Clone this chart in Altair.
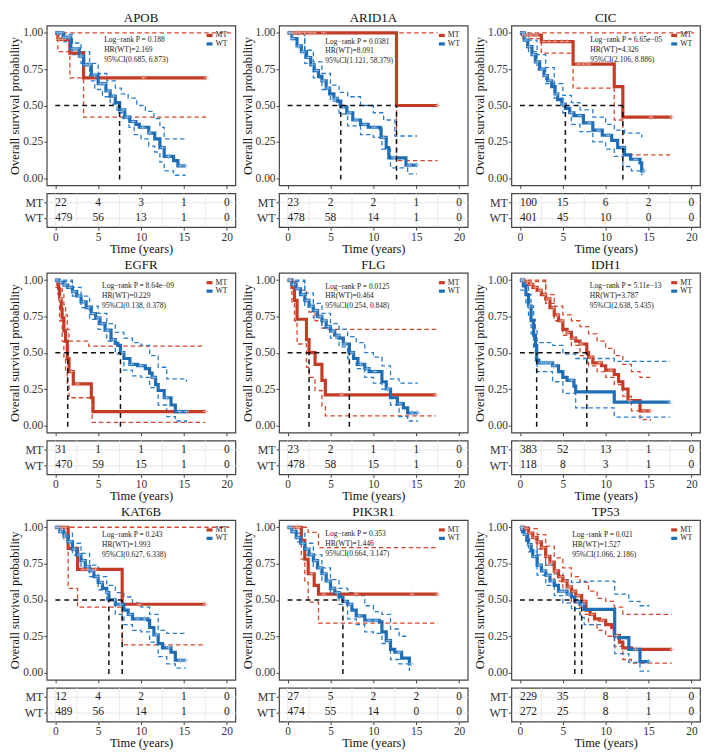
import altair as alt
import pandas as pd

FONT = "Liberation Serif"
C_MT = "#c43c26"
C_WT = "#1e6db5"
C_MT_CI = "#d4482f"
C_WT_CI = "#2a7cc7"
C_MT_CEN = "#eea597"
C_WT_CEN = "#93bfe9"

TIME_TICKS = [0, 5, 10, 15, 20]
GRID_T = [0, 2.5, 5, 7.5, 10, 12.5, 15, 17.5, 20]
SURV_TICKS = [0, 0.25, 0.5, 0.75, 1.0]
GROUPS = ["MT", "WT"]
GENES = ["APOB", "ARID1A", "CIC", "EGFR", "FLG", "IDH1", "KAT6B", "PIK3R1", "TP53"]

# ---------------- APOB ----------------
APOB_MT = [(0, 1.0), (0.3, 0.955), (1.7, 0.86), (3.3, 0.69), (17.6, 0.69)]
APOB_MT_LO = [(0, 1.0), (0.3, 0.87), (1.7, 0.69), (3.3, 0.42), (17.6, 0.42)]
APOB_MT_HI = [(0, 1.0), (20.5, 1.0)]
APOB_WT = [(0, 1.0), (0.9, 0.97), (1.8, 0.89), (2.8, 0.84), (3.3, 0.78), (4.2, 0.71), (5.0, 0.65),
           (5.9, 0.60), (6.4, 0.565), (7.0, 0.52), (7.5, 0.47), (8.1, 0.42), (8.7, 0.39), (9.4, 0.37),
           (9.8, 0.35), (10.9, 0.31), (11.6, 0.27), (12.2, 0.21), (12.7, 0.15), (13.8, 0.12),
           (14.3, 0.085), (15.2, 0.085)]
APOB_WT_LO = [(0, 0.99), (1, 0.94), (2, 0.85), (3, 0.79), (4, 0.67), (4.6, 0.61), (5.5, 0.56),
              (6.4, 0.51), (7.2, 0.45), (7.9, 0.41), (8.6, 0.35), (9.2, 0.30), (10.0, 0.27),
              (10.9, 0.22), (11.6, 0.18), (12.2, 0.11), (12.7, 0.05), (13.8, 0.02), (15.2, 0.02)]
APOB_WT_HI = [(0, 1.0), (1, 0.99), (2, 0.93), (3, 0.87), (4, 0.79), (5, 0.72), (6, 0.67), (7, 0.62),
              (7.7, 0.58), (8.5, 0.55), (9.5, 0.50), (10.5, 0.46), (11.5, 0.41), (12.2, 0.35),
              (12.7, 0.27), (15.2, 0.27)]
APOB_MT_CEN = [0.4, 0.9, 10.3, 17.6]
APOB_WT_CEN = [0.3, 0.7, 1.2, 1.6, 2.1, 2.5, 3.0, 3.6, 4.0, 4.6, 5.3, 5.7, 6.2, 6.8, 7.9, 8.4,
               9.1, 10.2, 11.0, 12.5, 13.2, 14.6, 15.2]
APOB_MED = [7.5]

# ---------------- ARID1A ----------------
ARID1A_MT = [(0, 1.0), (12.7, 0.5), (17.5, 0.5)]
ARID1A_MT_LO = [(0, 1.0), (12.7, 0.12), (17.5, 0.12)]
ARID1A_MT_HI = [(0, 1.0), (17.5, 1.0)]
ARID1A_WT = [(0, 1.0), (0.5, 0.96), (1.1, 0.91), (1.6, 0.87), (2.2, 0.83), (2.7, 0.78), (3.1, 0.74),
             (3.6, 0.70), (4.0, 0.67), (4.5, 0.62), (4.9, 0.58), (5.4, 0.55), (5.8, 0.53),
             (6.2, 0.49), (6.9, 0.45), (7.6, 0.40), (8.5, 0.37), (9.4, 0.35), (10.8, 0.34),
             (10.9, 0.28), (11.5, 0.21), (11.8, 0.14), (13.8, 0.09), (15.1, 0.09)]
ARID1A_WT_LO = [(0, 0.99), (2, 0.79), (3, 0.69), (4, 0.61), (5, 0.53), (6, 0.44), (7, 0.36),
                (8.5, 0.30), (10, 0.28), (11, 0.20), (12, 0.07), (14, 0.03), (15.1, 0.03)]
ARID1A_WT_HI = [(0, 1.0), (2, 0.88), (3, 0.80), (4, 0.72), (5, 0.64), (6, 0.59), (7, 0.56),
                (8.5, 0.50), (10, 0.45), (11.2, 0.40), (12.5, 0.29), (15.1, 0.29)]
ARID1A_MT_CEN = [0.3, 0.6, 1.0, 1.4, 2.0, 2.6, 3.1, 4.2, 17.5]
ARID1A_WT_CEN = [0.2, 0.6, 1.3, 1.8, 2.4, 2.9, 3.4, 4.2, 4.7, 5.6, 6.5, 7.2, 8.0, 9.0, 10.1,
                 11.2, 12.4, 14.2, 15.1]
ARID1A_MED = [6.2, 12.7]

# ---------------- CIC ----------------
CIC_MT = [(0, 1.0), (0.3, 0.985), (2.5, 0.94), (6.2, 0.785), (11.0, 0.63), (12.0, 0.42), (17.7, 0.42)]
CIC_MT_LO = [(0, 1.0), (0.3, 0.96), (2.5, 0.86), (6.2, 0.62), (11.0, 0.40), (12.0, 0.16), (17.7, 0.16)]
CIC_MT_HI = [(0, 1.0), (20.3, 1.0)]
CIC_WT = [(0, 1.0), (0.5, 0.95), (0.9, 0.905), (1.4, 0.85), (1.8, 0.80), (2.3, 0.75), (2.8, 0.705),
          (3.2, 0.67), (3.7, 0.63), (4.1, 0.58), (4.4, 0.54), (4.9, 0.51), (5.3, 0.48), (5.8, 0.45),
          (6.3, 0.43), (7.4, 0.38), (8.5, 0.33), (9.6, 0.295), (10.7, 0.26), (11.4, 0.21),
          (12.2, 0.16), (12.9, 0.13), (14.0, 0.105), (14.2, 0.05), (14.5, 0.05)]
CIC_WT_LO = [(0, 0.99), (1, 0.87), (2, 0.75), (3, 0.65), (4, 0.55), (5, 0.45), (6, 0.37), (7, 0.32),
             (8.5, 0.25), (10, 0.20), (11, 0.15), (12, 0.08), (13, 0.05), (14.2, 0.02)]
CIC_WT_HI = [(0, 1.0), (1, 0.95), (2, 0.85), (3, 0.76), (4, 0.65), (5, 0.57), (6, 0.52), (7, 0.47),
             (8.5, 0.42), (10, 0.37), (11, 0.33), (12.2, 0.31), (14.2, 0.28)]
CIC_MT_CEN = [0.5, 0.9, 1.3, 1.9, 2.8, 3.4, 4.1, 4.9, 5.5, 6.8, 7.4, 8.0, 15.3, 17.7]
CIC_WT_CEN = [0.3, 0.7, 1.1, 1.6, 2.0, 2.6, 3.0, 3.5, 4.3, 5.1, 6.0, 7.0, 8.1, 9.2, 10.3, 12.0,
              13.5, 14.5]
CIC_MED = [5.3, 12.0]

# ---------------- EGFR ----------------
EGFR_MT = [(0, 1.0), (0.3, 0.97), (0.4, 0.94), (0.5, 0.87), (0.7, 0.80), (0.8, 0.74), (1.0, 0.65),
           (1.2, 0.58), (1.4, 0.46), (1.6, 0.37), (2.1, 0.285), (4.2, 0.19), (4.4, 0.095), (17.5, 0.095)]
EGFR_MT_LO = [(0, 0.95), (0.3, 0.90), (0.5, 0.72), (0.8, 0.58), (1.0, 0.47), (1.2, 0.38), (1.4, 0.28),
              (1.6, 0.19), (4.3, 0.02), (17.5, 0.02)]
EGFR_MT_HI = [(0, 1.0), (0.5, 0.98), (0.8, 0.92), (1.0, 0.83), (1.2, 0.76), (1.4, 0.66), (1.6, 0.58),
              (3.9, 0.545), (17.5, 0.545)]
EGFR_WT = [(0, 1.0), (0.5, 0.985), (1.0, 0.965), (1.45, 0.95), (2.0, 0.92), (2.5, 0.89), (3.0, 0.85),
           (3.6, 0.81), (4.2, 0.77), (4.7, 0.74), (5.2, 0.70), (5.8, 0.655), (6.5, 0.59), (7.0, 0.565),
           (7.3, 0.55), (7.6, 0.50), (8.0, 0.46), (8.7, 0.42), (9.6, 0.41), (10.5, 0.39), (11.0, 0.36),
           (11.3, 0.33), (11.7, 0.28), (12.0, 0.24), (12.7, 0.19), (13.5, 0.14), (14.0, 0.095),
           (15.3, 0.095)]
EGFR_WT_LO = [(0, 0.99), (2, 0.89), (3, 0.81), (4, 0.73), (5, 0.66), (6, 0.58), (7, 0.49), (8, 0.38),
              (9, 0.34), (10, 0.33), (11, 0.26), (12, 0.14), (13, 0.06), (14, 0.03), (15.3, 0.02)]
EGFR_WT_HI = [(0, 1.0), (2, 0.95), (3, 0.89), (4, 0.82), (5, 0.77), (6, 0.70), (7, 0.64), (8, 0.60),
              (9, 0.57), (10, 0.55), (11, 0.48), (12, 0.40), (13, 0.32), (15.3, 0.30)]
EGFR_MT_CEN = [0.6, 1.9, 2.6, 17.5]
EGFR_WT_CEN = [0.2, 0.6, 1.1, 1.7, 2.2, 2.8, 3.3, 3.9, 4.4, 5.0, 5.5, 6.1, 6.8, 7.8, 8.9, 10.0,
               11.5, 13.0, 14.5, 15.3]
EGFR_MED = [1.45, 7.6]

# ---------------- FLG ----------------
FLG_MT = [(0, 1.0), (0.5, 0.95), (0.8, 0.86), (1.1, 0.73), (2.2, 0.59), (2.5, 0.50), (3.2, 0.42),
          (4.0, 0.31), (4.4, 0.21), (17.3, 0.21)]
FLG_MT_LO = [(0, 1.0), (0.5, 0.85), (0.8, 0.72), (1.1, 0.56), (2.2, 0.40), (2.5, 0.33), (3.2, 0.24),
             (4.0, 0.13), (4.4, 0.065), (17.3, 0.065)]
FLG_MT_HI = [(0, 1.0), (0.8, 0.98), (1.1, 0.93), (2.2, 0.85), (2.5, 0.78), (3.2, 0.72), (4.0, 0.67),
             (4.4, 0.66), (17.3, 0.66)]
FLG_WT = [(0, 1.0), (0.5, 0.97), (1.0, 0.94), (1.5, 0.90), (2.0, 0.86), (2.5, 0.82), (3.0, 0.79),
          (3.5, 0.75), (4.0, 0.72), (4.5, 0.68), (5.0, 0.65), (5.5, 0.62), (6.0, 0.60), (6.5, 0.56),
          (7.2, 0.50), (7.7, 0.46), (8.2, 0.42), (9.0, 0.39), (9.5, 0.37), (10.8, 0.37), (11.0, 0.30),
          (11.5, 0.25), (12.0, 0.19), (12.8, 0.15), (13.5, 0.12), (14.0, 0.085), (15.2, 0.085)]
FLG_WT_LO = [(0, 0.99), (2, 0.82), (3, 0.74), (4, 0.67), (5, 0.60), (6, 0.54), (7, 0.46), (8, 0.39),
             (9, 0.33), (10, 0.29), (11, 0.25), (12, 0.14), (13, 0.06), (14, 0.03), (15.2, 0.03)]
FLG_WT_HI = [(0, 1.0), (2, 0.91), (3, 0.84), (4, 0.77), (5, 0.70), (6, 0.66), (7, 0.61), (8, 0.57),
             (9, 0.50), (10, 0.47), (11, 0.41), (12, 0.32), (13, 0.29), (15.2, 0.29)]
FLG_MT_CEN = [0.3, 6.3, 17.3]
FLG_WT_CEN = [0.2, 0.7, 1.2, 1.8, 2.3, 2.8, 3.3, 3.8, 4.3, 4.8, 5.3, 5.9, 6.7, 7.5, 8.5, 9.3,
              10.2, 11.7, 13.1, 14.5, 15.2]
FLG_MED = [2.5, 7.2]

# ---------------- IDH1 ----------------
IDH1_MT = [(0, 1.0), (0.5, 0.99), (1.0, 0.97), (1.5, 0.95), (2.0, 0.93), (2.5, 0.90), (3.0, 0.87),
           (3.5, 0.81), (4.0, 0.76), (4.5, 0.72), (5.0, 0.66), (5.5, 0.64), (6.0, 0.60), (6.5, 0.58),
           (7.0, 0.56), (7.8, 0.50), (8.0, 0.47), (8.5, 0.43), (9.5, 0.41), (10.0, 0.38), (11.0, 0.35),
           (11.5, 0.30), (12.0, 0.25), (12.6, 0.17), (13.5, 0.17), (14.0, 0.10), (15.2, 0.10)]
IDH1_MT_LO = [(0, 0.99), (3, 0.84), (4, 0.72), (5, 0.62), (6, 0.55), (7, 0.48), (8, 0.41), (9, 0.37),
              (10, 0.33), (11, 0.28), (12, 0.20), (13, 0.10), (14, 0.04), (15.2, 0.03)]
IDH1_MT_HI = [(0, 1.0), (3, 0.90), (4, 0.82), (5, 0.76), (6, 0.72), (7, 0.68), (8, 0.63), (9, 0.58),
              (10, 0.53), (11, 0.48), (12, 0.42), (13, 0.37), (14, 0.33), (15.2, 0.33)]
IDH1_WT = [(0, 1.0), (0.4, 0.96), (0.7, 0.90), (1.0, 0.82), (1.3, 0.72), (1.6, 0.62), (1.8, 0.55),
           (1.95, 0.45), (2.2, 0.43), (3.8, 0.41), (4.5, 0.37), (5.0, 0.33), (5.5, 0.31), (6.3, 0.27),
           (6.5, 0.23), (11.0, 0.16), (17.5, 0.16)]
IDH1_WT_LO = [(0, 0.93), (0.7, 0.83), (1.0, 0.74), (1.3, 0.63), (1.6, 0.52), (1.8, 0.44), (2.0, 0.37),
              (3.8, 0.30), (5.0, 0.22), (6.5, 0.12), (11.0, 0.057), (17.5, 0.057)]
IDH1_WT_HI = [(0, 1.0), (0.7, 0.96), (1.0, 0.90), (1.3, 0.82), (1.6, 0.73), (1.8, 0.65), (2.0, 0.57),
              (3.8, 0.55), (5.0, 0.49), (6.5, 0.46), (11.0, 0.44), (17.5, 0.44)]
IDH1_MT_CEN = [0.4, 0.9, 1.3, 1.8, 2.4, 2.9, 3.3, 3.9, 4.4, 4.9, 5.6, 6.3, 7.1, 8.3, 9.3, 10.6,
               12.8, 14.5, 15.2]
IDH1_WT_CEN = [0.2, 1.1, 2.5, 3.0, 3.5, 4.0, 6.0, 17.5]
IDH1_MED = [1.95, 7.8]

# ---------------- KAT6B ----------------
KAT6B_MT = [(0, 1.0), (1.5, 0.855), (2.6, 0.71), (7.8, 0.47), (17.5, 0.47)]
KAT6B_MT_LO = [(0, 1.0), (1.5, 0.58), (2.6, 0.45), (7.8, 0.19), (17.5, 0.19)]
KAT6B_MT_HI = [(0, 1.0), (20.3, 1.0)]
KAT6B_WT = [(0, 1.0), (0.5, 0.97), (1.0, 0.94), (1.5, 0.90), (2.0, 0.85), (2.5, 0.81), (3.0, 0.77),
            (3.5, 0.73), (4.0, 0.70), (4.5, 0.66), (5.0, 0.62), (5.5, 0.58), (6.0, 0.55), (6.25, 0.50),
            (7.0, 0.47), (8.0, 0.43), (8.5, 0.40), (9.0, 0.37), (10.8, 0.36), (11.0, 0.31), (11.5, 0.26),
            (12.0, 0.20), (12.5, 0.17), (13.5, 0.14), (14.0, 0.085), (15.2, 0.085)]
KAT6B_WT_LO = [(0, 0.99), (1, 0.91), (2, 0.81), (3, 0.72), (4, 0.66), (5, 0.57), (6, 0.50), (7, 0.40),
               (8, 0.33), (9, 0.29), (10, 0.28), (11, 0.21), (12, 0.11), (13, 0.06), (14, 0.03),
               (15.2, 0.03)]
KAT6B_WT_HI = [(0, 1.0), (1, 0.96), (2, 0.89), (3, 0.82), (4, 0.74), (5, 0.66), (6, 0.60), (7, 0.55),
               (8, 0.52), (9, 0.48), (10, 0.45), (11, 0.40), (12, 0.29), (13, 0.27), (15.2, 0.27)]
KAT6B_MT_CEN = [0.4, 0.8, 1.2, 3.2, 3.8, 4.7, 9.8, 17.5]
KAT6B_WT_CEN = [0.2, 0.6, 1.1, 1.7, 2.2, 2.8, 3.3, 3.8, 4.3, 4.9, 5.4, 6.0, 6.9, 7.6, 8.7, 9.6,
                10.4, 11.8, 13.2, 14.6, 15.2]
KAT6B_MED = [6.25, 7.8]

# ---------------- PIK3R1 ----------------
PIK3R1_MT = [(0, 1.0), (1.6, 0.91), (2.0, 0.78), (2.4, 0.68), (3.1, 0.60), (3.6, 0.54), (17.5, 0.54)]
PIK3R1_MT_LO = [(0, 1.0), (1.6, 0.78), (2.0, 0.62), (2.4, 0.485), (3.6, 0.34), (17.5, 0.34)]
PIK3R1_MT_HI = [(0, 1.0), (2.4, 0.965), (3.6, 0.86), (17.5, 0.86)]
PIK3R1_WT = [(0, 1.0), (0.5, 0.97), (1.0, 0.93), (1.5, 0.89), (2.0, 0.85), (2.5, 0.81), (3.0, 0.77),
             (3.5, 0.72), (4.0, 0.68), (4.5, 0.63), (5.0, 0.58), (5.5, 0.55), (6.0, 0.52), (6.45, 0.49),
             (7.0, 0.47), (7.5, 0.43), (8.0, 0.39), (9.0, 0.36), (10.7, 0.35), (11.0, 0.28), (11.5, 0.22),
             (12.0, 0.16), (12.5, 0.14), (13.3, 0.10), (14.2, 0.06), (14.4, 0.06)]
PIK3R1_WT_LO = [(0, 0.99), (1, 0.90), (2, 0.81), (3, 0.72), (4, 0.63), (5, 0.54), (6, 0.47), (7, 0.37),
                (8, 0.33), (9, 0.28), (10, 0.27), (11, 0.20), (12, 0.09), (13, 0.06), (14.2, 0.01)]
PIK3R1_WT_HI = [(0, 1.0), (1, 0.96), (2, 0.89), (3, 0.81), (4, 0.72), (5, 0.64), (6, 0.58), (7, 0.55),
                (8, 0.53), (9, 0.46), (10, 0.42), (11, 0.40), (12, 0.30), (13, 0.25), (14.2, 0.25)]
PIK3R1_MT_CEN = [0.5, 1.0, 1.3, 2.8, 4.2, 8.0, 14.5, 17.5]
PIK3R1_WT_CEN = [0.2, 0.7, 1.2, 1.8, 2.3, 2.8, 3.3, 3.8, 4.3, 4.8, 5.3, 5.8, 6.7, 7.3, 8.4, 9.5,
                 10.3, 11.8, 13.0, 14.4]
PIK3R1_MED = [6.45]

# ---------------- TP53 ----------------
TP53_MT = [(0, 1.0), (0.5, 0.99), (1, 0.96), (1.5, 0.93), (2, 0.90), (2.5, 0.86), (3, 0.80), (3.5, 0.76),
           (4, 0.70), (4.5, 0.66), (5, 0.63), (5.5, 0.59), (6, 0.56), (6.5, 0.53), (7.2, 0.49),
           (7.7, 0.43), (8.2, 0.40), (8.7, 0.37), (9.3, 0.36), (10, 0.33), (10.7, 0.31), (11, 0.255),
           (11.6, 0.21), (12, 0.17), (13, 0.16), (17.7, 0.16)]
TP53_MT_LO = [(0, 0.98), (1, 0.92), (2, 0.85), (3, 0.74), (4, 0.63), (5, 0.56), (6, 0.48), (7, 0.40),
              (8, 0.33), (9, 0.29), (10, 0.25), (11, 0.18), (12, 0.09), (13, 0.065), (17.7, 0.065)]
TP53_MT_HI = [(0, 1.0), (1, 0.99), (2, 0.95), (3, 0.87), (4, 0.79), (5, 0.72), (6, 0.66), (7, 0.62),
              (8, 0.56), (9, 0.51), (10, 0.49), (11, 0.45), (12, 0.40), (17.7, 0.40)]
TP53_WT = [(0, 1.0), (0.3, 0.97), (0.5, 0.95), (0.8, 0.91), (1, 0.88), (1.3, 0.84), (1.5, 0.80),
           (2, 0.74), (2.5, 0.70), (3, 0.67), (3.5, 0.63), (4, 0.60), (4.5, 0.56), (5.5, 0.54),
           (6, 0.52), (6.4, 0.49), (7, 0.47), (7.5, 0.435), (11.05, 0.25), (11.5, 0.24), (12.7, 0.16),
           (14, 0.075), (15.1, 0.075)]
TP53_WT_LO = [(0, 0.98), (1, 0.83), (2, 0.67), (3, 0.60), (4, 0.53), (5, 0.48), (6, 0.44), (7, 0.38),
              (7.5, 0.33), (11.05, 0.13), (12.7, 0.07), (14, 0.01), (15.1, 0.01)]
TP53_WT_HI = [(0, 1.0), (1, 0.93), (2, 0.81), (3, 0.74), (4, 0.68), (5, 0.64), (6, 0.62), (7.5, 0.63),
              (11.05, 0.54), (12.7, 0.49), (14, 0.46), (15.1, 0.46)]
TP53_MT_CEN = [0.3, 0.8, 1.2, 1.7, 2.2, 2.7, 3.2, 3.7, 4.2, 4.8, 5.3, 5.8, 6.3, 6.8, 7.5, 8.4,
               9.6, 11.3, 13.5, 17.7]
TP53_WT_CEN = [0.2, 0.6, 1.1, 1.7, 2.3, 2.8, 3.3, 3.8, 4.8, 5.2, 5.7, 6.7, 7.3, 15.1]
TP53_MED = [6.4, 7.2]

CURVES = {
    "APOB": (APOB_MT, APOB_MT_LO, APOB_MT_HI, APOB_WT, APOB_WT_LO, APOB_WT_HI, APOB_MT_CEN, APOB_WT_CEN, APOB_MED),
    "ARID1A": (ARID1A_MT, ARID1A_MT_LO, ARID1A_MT_HI, ARID1A_WT, ARID1A_WT_LO, ARID1A_WT_HI, ARID1A_MT_CEN, ARID1A_WT_CEN, ARID1A_MED),
    "CIC": (CIC_MT, CIC_MT_LO, CIC_MT_HI, CIC_WT, CIC_WT_LO, CIC_WT_HI, CIC_MT_CEN, CIC_WT_CEN, CIC_MED),
    "EGFR": (EGFR_MT, EGFR_MT_LO, EGFR_MT_HI, EGFR_WT, EGFR_WT_LO, EGFR_WT_HI, EGFR_MT_CEN, EGFR_WT_CEN, EGFR_MED),
    "FLG": (FLG_MT, FLG_MT_LO, FLG_MT_HI, FLG_WT, FLG_WT_LO, FLG_WT_HI, FLG_MT_CEN, FLG_WT_CEN, FLG_MED),
    "IDH1": (IDH1_MT, IDH1_MT_LO, IDH1_MT_HI, IDH1_WT, IDH1_WT_LO, IDH1_WT_HI, IDH1_MT_CEN, IDH1_WT_CEN, IDH1_MED),
    "KAT6B": (KAT6B_MT, KAT6B_MT_LO, KAT6B_MT_HI, KAT6B_WT, KAT6B_WT_LO, KAT6B_WT_HI, KAT6B_MT_CEN, KAT6B_WT_CEN, KAT6B_MED),
    "PIK3R1": (PIK3R1_MT, PIK3R1_MT_LO, PIK3R1_MT_HI, PIK3R1_WT, PIK3R1_WT_LO, PIK3R1_WT_HI, PIK3R1_MT_CEN, PIK3R1_WT_CEN, PIK3R1_MED),
    "TP53": (TP53_MT, TP53_MT_LO, TP53_MT_HI, TP53_WT, TP53_WT_LO, TP53_WT_HI, TP53_MT_CEN, TP53_WT_CEN, TP53_MED),
}

# risk tables (numbers at risk at 0, 5, 10, 15, 20 years)
RISK_MT = {"APOB": [22, 4, 3, 1, 0], "ARID1A": [23, 2, 2, 1, 0], "CIC": [100, 15, 6, 2, 0],
           "EGFR": [31, 1, 1, 1, 0], "FLG": [23, 2, 1, 1, 0], "IDH1": [383, 52, 13, 1, 0],
           "KAT6B": [12, 4, 2, 1, 0], "PIK3R1": [27, 5, 2, 2, 0], "TP53": [229, 35, 8, 1, 0]}
RISK_WT = {"APOB": [479, 56, 13, 1, 0], "ARID1A": [478, 58, 14, 1, 0], "CIC": [401, 45, 10, 0, 0],
           "EGFR": [470, 59, 15, 1, 0], "FLG": [478, 58, 15, 1, 0], "IDH1": [118, 8, 3, 1, 0],
           "KAT6B": [489, 56, 14, 1, 0], "PIK3R1": [474, 55, 14, 0, 0], "TP53": [272, 25, 8, 1, 0]}

# statistics text
PVAL = {"APOB": "0.188", "ARID1A": "0.0381", "CIC": "6.65e−05", "EGFR": "8.64e−09", "FLG": "0.0125",
        "IDH1": "5.11e−13", "KAT6B": "0.243", "PIK3R1": "0.353", "TP53": "0.021"}
HR = {"APOB": "2.169", "ARID1A": "8.091", "CIC": "4.326", "EGFR": "0.229", "FLG": "0.464",
      "IDH1": "3.787", "KAT6B": "1.993", "PIK3R1": "1.446", "TP53": "1.527"}
CI95 = {"APOB": "0.685, 6.873", "ARID1A": "1.121, 58.379", "CIC": "2.106, 8.886", "EGFR": "0.138, 0.378",
        "FLG": "0.254, 0.848", "IDH1": "2.638, 5.435", "KAT6B": "0.627, 6.338", "PIK3R1": "0.664, 3.147",
        "TP53": "1.066, 2.186"}
ANN_T = {"APOB": 5.7, "ARID1A": 4.4, "CIC": 8.2, "EGFR": 5.45, "FLG": 4.4, "IDH1": 8.15,
         "KAT6B": 5.45, "PIK3R1": 4.4, "TP53": 6.1}
ANN_S = {"APOB": 0.95, "ARID1A": 0.94, "CIC": 0.95, "EGFR": 0.96, "FLG": 0.955, "IDH1": 0.96,
         "KAT6B": 0.947, "PIK3R1": 0.953, "TP53": 0.947}

W = 190
KH = 161
TH = 34

XS = alt.Scale(domain=[-1, 21], nice=False, zero=False)
YS = alt.Scale(domain=[-0.05, 1.05], nice=False, zero=False)
CROSS = "M -1 0 L 1 0 M 0 -1 L 0 1"


def pts_df(points):
    return pd.DataFrame({"t": [p[0] for p in points], "s": [p[1] for p in points]})


def step_at(points, t):
    v = points[0][1]
    for pt, ps in points:
        if pt <= t:
            v = ps
    return v


def km_chart(g):
    mt, mt_lo, mt_hi, wt, wt_lo, wt_hi, mt_cen, wt_cen, med = CURVES[g]
    xe = alt.X("t:Q", scale=XS, axis=alt.Axis(values=TIME_TICKS, labels=False, ticks=True, tickSize=3,
                                                title=None, grid=False, domain=False))
    ye = alt.Y("s:Q", scale=YS, axis=alt.Axis(values=SURV_TICKS, format=".2f",
                                                title="Overall survival probability",
                                                labelFontSize=11.5, titleFontSize=12.5, tickSize=3,
                                                titleFontWeight=400,
                                                labelPadding=1, titlePadding=1, grid=False, domain=False))
    layers = []
    for series, col in [(mt_lo, C_MT_CI), (mt_hi, C_MT_CI), (wt_lo, C_WT_CI), (wt_hi, C_WT_CI)]:
        layers.append(alt.Chart(pts_df(series)).mark_line(
            interpolate="step-after", strokeDash=[4.5, 3], strokeWidth=1.3, color=col).encode(x=xe, y=ye))
    for series, col in [(mt, C_MT), (wt, C_WT)]:
        layers.append(alt.Chart(pts_df(series)).mark_line(
            interpolate="step-after", strokeWidth=3.2, color=col).encode(x=xe, y=ye))
    for series, cens, col in [(mt, mt_cen, C_MT_CEN), (wt, wt_cen, C_WT_CEN)]:
        cdf = pd.DataFrame({"t": cens, "s": [step_at(series, c) for c in cens]})
        layers.append(alt.Chart(cdf).mark_point(
            shape=CROSS, size=28, filled=False, strokeWidth=1, color=col, opacity=0.9).encode(x=xe, y=ye))
    # median lines
    hdf = pd.DataFrame({"t": [0], "t2": [max(med)], "s": [0.5], "s2": [0.5]})
    vdf = pd.DataFrame({"t": med, "t2": med, "s": [-0.01] * len(med), "s2": [0.5] * len(med)})
    for d in (hdf, vdf):
        layers.append(alt.Chart(d).mark_rule(strokeDash=[5, 4], strokeWidth=1.5, color="#111").encode(
            x=xe, x2="t2:Q", y=ye, y2="s2:Q"))
    # statistics text
    adf = pd.DataFrame({"t": [ANN_T[g]], "s": [ANN_S[g]]})
    lines = ["Log−rank P = " + PVAL[g], "HR(WT)=" + HR[g], "95%CI(" + CI95[g] + ")"]
    layers.append(alt.Chart(adf).mark_text(align="left", baseline="middle", fontSize=7.6, lineHeight=10,
                                           font=FONT, color="#222", text=lines).encode(x=xe, y=ye))
    # legend
    for i, (grp, col) in enumerate(zip(GROUPS, [C_MT, C_WT])):
        ly = 10 + 8.5 * i
        ldf = pd.DataFrame({"g": [grp]})
        layers.append(alt.Chart(ldf).mark_rule(strokeWidth=3.2, color=col).encode(
            x=alt.value(W - 29), x2=alt.value(W - 23), y=alt.value(ly)))
        layers.append(alt.Chart(ldf).mark_text(align="left", baseline="middle", fontSize=7.8, font=FONT,
                                               color="#222").encode(
            x=alt.value(W - 20), y=alt.value(ly), text="g:N"))
    return alt.layer(*layers).properties(
        width=W, height=KH,
        title=alt.Title(g, font=FONT, fontSize=13, fontWeight=400, frame="group", offset=1,
                        color="#111"))


def table_chart(g):
    xe = alt.X("t:Q", scale=XS, axis=alt.Axis(values=TIME_TICKS, title="Time (years)", labelFontSize=11.5,
                                                titleFontSize=12.5, titleFontWeight=400, tickSize=3,
                                                labelPadding=1, titlePadding=0, grid=False, domain=False))
    ye = alt.Y("g:N", scale=alt.Scale(domain=GROUPS, type="point", padding=0.6),
               axis=alt.Axis(title=None, labelFontSize=12, tickSize=3, labelPadding=1, grid=True,
                             gridColor="#e6e6e6", domain=False))
    grid = alt.Chart(pd.DataFrame({"t": GRID_T})).mark_rule(color="#e6e6e6", strokeWidth=0.8).encode(
        x=xe, y=alt.value(0), y2=alt.value(TH))
    rows = []
    for grp, vals in [("MT", RISK_MT[g]), ("WT", RISK_WT[g])]:
        for t, n in zip(TIME_TICKS, vals):
            rows.append({"t": t, "g": grp, "n": n})
    rdf = pd.DataFrame(rows)
    first = alt.Chart(rdf[rdf.t == 0]).mark_text(align="left", baseline="middle", fontSize=11.5,
                                                 font=FONT, color="#222").encode(x=xe, y=ye, text="n:Q")
    rest = alt.Chart(rdf[rdf.t != 0]).mark_text(align="center", baseline="middle", fontSize=11.5,
                                                font=FONT, color="#222").encode(x=xe, y=ye, text="n:Q")
    return alt.layer(grid, first, rest).properties(width=W, height=TH)


cols = [alt.vconcat(km_chart(g), table_chart(g), spacing=2) for g in GENES]
rows = [alt.hconcat(*cols[i:i + 3], spacing=4) for i in range(0, 9, 3)]
chart = alt.vconcat(*rows, spacing=2).properties(
    padding={"left": 0, "top": 0, "right": 0, "bottom": 0}
).configure_view(stroke="#444", strokeWidth=1.2).configure_axis(
    labelFont=FONT, titleFont=FONT, labelColor="#333", titleColor="#111", tickColor="#444",
    titleFontWeight=400
).configure_title(fontWeight=400).configure_text(font=FONT)

chart.save("out.html", embed_options={"renderer": "svg", "actions": False})
